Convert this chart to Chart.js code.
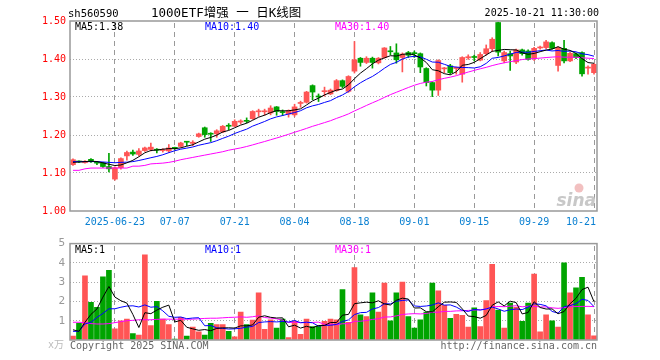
<!DOCTYPE html>
<html>
<head>
<meta charset="utf-8">
<script src="https://cdn.jsdelivr.net/npm/chart.js@4.4.1/dist/chart.umd.min.js"></script>
<style>
  body { margin: 0; background: #fff; width: 660px; height: 360px; overflow: hidden; position: relative; font-family: "DejaVu Sans Mono", monospace; }
  canvas { position: absolute; left: 0; }
  #kline { top: 0; }
  #vol { top: 232px; }
  .t { position: absolute; white-space: nowrap; font-size: 10px; line-height: 12px; color: #000; }
</style>
</head>
<body>
<canvas id="kline" width="660" height="232"></canvas>
<canvas id="vol" width="660" height="128"></canvas>
<div class="t" style="left:68px;top:7px;font-size:10.5px">sh560590</div>
<div class="t" style="left:151px;top:5px;font-size:12.5px;line-height:15px;font-family:'DejaVu Sans Mono','Noto Sans CJK SC',monospace">1000ETF增强 一 日K线图</div>
<div class="t" style="right:61px;top:7px">2025-10-21 11:30:00</div>
<script>
// trading days shown (88 candles)
const dates = [
  '2025-06-12','2025-06-13','2025-06-16','2025-06-17','2025-06-18','2025-06-19','2025-06-20','2025-06-23','2025-06-24','2025-06-25','2025-06-26','2025-06-27','2025-06-30',
  '2025-07-01','2025-07-02','2025-07-03','2025-07-04','2025-07-07','2025-07-08','2025-07-09','2025-07-10','2025-07-11','2025-07-14','2025-07-15','2025-07-16','2025-07-17','2025-07-18',
  '2025-07-21','2025-07-22','2025-07-23','2025-07-24','2025-07-25','2025-07-28','2025-07-29','2025-07-30','2025-07-31',
  '2025-08-01','2025-08-04','2025-08-05','2025-08-06','2025-08-07','2025-08-08','2025-08-11','2025-08-12','2025-08-13','2025-08-14','2025-08-15',
  '2025-08-18','2025-08-19','2025-08-20','2025-08-21','2025-08-22','2025-08-25','2025-08-26','2025-08-27','2025-08-28','2025-08-29',
  '2025-09-01','2025-09-02','2025-09-03','2025-09-04','2025-09-05','2025-09-08','2025-09-09','2025-09-10','2025-09-11','2025-09-12',
  '2025-09-15','2025-09-16','2025-09-17','2025-09-18','2025-09-19','2025-09-22','2025-09-23','2025-09-24','2025-09-25','2025-09-26',
  '2025-09-29','2025-09-30','2025-10-09','2025-10-10','2025-10-13','2025-10-14','2025-10-15','2025-10-16','2025-10-17','2025-10-20','2025-10-21'
];
const tickDates = ['2025-06-23','2025-07-07','2025-07-21','2025-08-04','2025-08-18','2025-09-01','2025-09-15','2025-09-29','2025-10-21'];
const tickLabels = ['2025-06-23','07-07','07-21','08-04','08-18','09-01','09-15','09-29','10-21'];

const opens = [1.122,1.130,1.127,1.136,1.128,1.127,1.117,1.084,1.114,1.145,
  1.155,1.149,1.159,1.162,1.161,1.159,1.158,1.167,1.170,1.182,
  1.178,1.196,1.219,1.204,1.203,1.208,1.225,1.223,1.234,1.238,
  1.243,1.261,1.261,1.258,1.274,1.261,1.255,1.253,1.283,1.286,
  1.330,1.302,1.314,1.308,1.317,1.343,1.315,1.368,1.402,1.391,
  1.402,1.390,1.404,1.421,1.416,1.404,1.417,1.416,1.414,1.375,
  1.338,1.318,1.374,1.382,1.375,1.360,1.403,1.405,1.397,1.414,
  1.427,1.496,1.395,1.414,1.392,1.424,1.421,1.401,1.429,1.430,
  1.443,1.383,1.428,1.395,1.414,1.417,1.376,1.364];
const highs = [1.137,1.132,1.133,1.138,1.130,1.128,1.152,1.116,1.140,1.158,
  1.160,1.164,1.168,1.179,1.164,1.164,1.175,1.168,1.181,1.182,
  1.185,1.205,1.221,1.206,1.214,1.225,1.230,1.240,1.240,1.245,
  1.264,1.268,1.268,1.277,1.275,1.266,1.266,1.281,1.289,1.315,
  1.332,1.308,1.326,1.321,1.346,1.345,1.356,1.446,1.404,1.406,
  1.405,1.404,1.430,1.433,1.440,1.416,1.420,1.421,1.416,1.377,
  1.340,1.398,1.378,1.386,1.379,1.406,1.411,1.410,1.417,1.437,
  1.456,1.497,1.421,1.421,1.426,1.426,1.424,1.431,1.434,1.449,
  1.445,1.432,1.449,1.418,1.416,1.419,1.382,1.388];
const lows = [1.120,1.127,1.126,1.128,1.122,1.115,1.103,1.081,1.110,1.134,
  1.146,1.145,1.157,1.158,1.153,1.155,1.154,1.162,1.168,1.172,
  1.172,1.194,1.194,1.183,1.194,1.206,1.214,1.222,1.229,1.232,
  1.241,1.249,1.252,1.253,1.252,1.251,1.247,1.249,1.273,1.284,
  1.293,1.288,1.302,1.306,1.315,1.324,1.312,1.363,1.381,1.388,
  1.376,1.387,1.402,1.411,1.389,1.366,1.404,1.404,1.364,1.329,
  1.301,1.304,1.364,1.360,1.360,1.339,1.399,1.395,1.395,1.410,
  1.420,1.408,1.390,1.370,1.388,1.410,1.397,1.396,1.426,1.427,
  1.426,1.368,1.390,1.393,1.401,1.355,1.360,1.360];
const closes = [1.135,1.129,1.131,1.130,1.126,1.117,1.111,1.114,1.138,1.154,
  1.150,1.158,1.166,1.168,1.160,1.161,1.166,1.165,1.179,1.181,
  1.181,1.203,1.201,1.202,1.211,1.223,1.223,1.236,1.237,1.236,
  1.262,1.263,1.263,1.271,1.262,1.259,1.264,1.274,1.285,1.313,
  1.313,1.300,1.316,1.318,1.343,1.328,1.354,1.398,1.391,1.402,
  1.391,1.402,1.429,1.419,1.398,1.413,1.410,1.414,1.379,1.338,
  1.318,1.396,1.376,1.364,1.378,1.404,1.406,1.404,1.412,1.427,
  1.452,1.418,1.417,1.408,1.424,1.414,1.399,1.428,1.431,1.445,
  1.428,1.430,1.395,1.415,1.404,1.361,1.378,1.386];
// volume, unit 万手
const volumes = [0.20,0.87,3.33,1.95,1.70,3.28,3.62,0.58,1.00,1.08,
  0.33,0.25,4.42,0.75,2.00,1.08,0.80,0.05,1.17,0.20,
  0.67,0.42,0.25,0.87,0.80,0.80,0.45,0.17,1.45,0.80,
  1.03,2.45,0.55,1.05,0.62,1.08,0.12,0.97,0.30,1.08,
  0.70,0.72,0.97,1.08,1.05,2.62,0.92,3.75,1.30,1.22,
  2.45,1.45,2.95,1.00,2.45,3.00,1.22,0.62,1.05,1.45,
  2.95,2.55,1.80,1.12,1.33,1.28,0.67,1.67,0.70,2.05,
  3.92,1.55,0.62,1.92,1.70,0.97,1.92,3.42,0.42,1.30,
  1.00,0.67,4.00,2.45,2.70,3.25,1.30,0.22];

// start of the MA lines (window not full yet)
const priceMa5Head = [1.128,1.129,1.130,1.131];
const priceMa10Head = [1.130,1.130,1.130,1.130,1.130,1.129,1.128,1.127,1.128];
const priceMa30Head = [1.107,1.107,1.111,1.113,1.113,1.113,1.113,1.113,1.113,1.113,
  1.118,1.118,1.120,1.124,1.125,1.126,1.128,1.131,1.135,1.138,
  1.141,1.144,1.147,1.150,1.153,1.156,1.160,1.163,1.166];
const volMa5Head = [0.53,0.45,0.92,1.33];
const volMa10Head = [0.45,0.45,0.83,0.92,1.17,1.38,1.62,1.62,1.70];
const volMa30Head = [0.92,0.92,0.90,0.85,0.83,0.83,0.85,0.90,0.95,1.00,
  1.02,1.05,1.05,1.05,1.07,1.08,1.08,1.08,1.08,1.08,
  1.08,1.10,1.12,1.13,1.13,1.15,1.17,1.18,1.20];

const priceMaText = ['MA5:1.38', 'MA10:1.40', 'MA30:1.40'];
const volMaText = ['MA5:1', 'MA10:1', 'MA30:1'];

const RED = '#ff5555', GREEN = '#00a400';
const MA_COLORS = ['#000000', '#0000ff', '#ff00ff'];
const FONT = '"DejaVu Sans Mono", monospace';

function movingAvg(values, n, head) {
  return values.map((v, i) => {
    if (i < n - 1) return head[i];
    let s = 0;
    for (let k = i - n + 1; k <= i; k++) s += values[k];
    return s / n;
  });
}

const upDown = closes.map((c, i) => c >= opens[i] ? RED : GREEN);

// dashed date lines under the candles, frame on top
const framePlugin = {
  id: 'frame',
  beforeDatasetsDraw(chart) {
    const { ctx, chartArea: a } = chart;
    const x = chart.scales.x;
    ctx.save();
    ctx.fillStyle = '#999999';
    tickDates.forEach(d => {
      const px = Math.floor(x.getPixelForValue(dates.indexOf(d)));
      for (let y = Math.ceil(a.top) + 2; y < a.bottom - 1; y += 9) {
        ctx.fillRect(px, y, 1, Math.min(5, a.bottom - 1 - y));
      }
    });
    ctx.restore();
  },
  afterDraw(chart) {
    const { ctx, chartArea: a } = chart;
    ctx.save();
    ctx.strokeStyle = '#999';
    ctx.lineWidth = 1.5;
    ctx.strokeRect(a.left, a.top, a.right - a.left, a.bottom - a.top);
    ctx.restore();
  }
};

function xScale() {
  return {
    offset: true,
    grid: { display: false },
    border: { display: false },
    ticks: { display: false, autoSkip: false },
    afterFit: s => { s.height = 0; }
  };
}

function drawMaTexts(ctx, texts, xs, y) {
  ctx.save();
  ctx.font = '10px ' + FONT;
  ctx.textBaseline = 'middle';
  ctx.textAlign = 'left';
  texts.forEach((t, k) => {
    ctx.fillStyle = MA_COLORS[k];
    ctx.fillText(t, xs[k], y);
  });
  ctx.restore();
}

const klineText = {
  id: 'klineText',
  afterDraw(chart) {
    const { ctx, chartArea: a } = chart;
    const x = chart.scales.x;
    ctx.save();
    ctx.font = '10px ' + FONT;
    ctx.fillStyle = '#0a80d2';
    ctx.textBaseline = 'middle';
    tickDates.forEach((d, k) => {
      const px = x.getPixelForValue(dates.indexOf(d));
      const last = k === tickDates.length - 1;
      ctx.textAlign = last ? 'right' : 'center';
      ctx.fillText(tickLabels[k], last ? px + 2 : px, a.bottom + 11);
    });
    // sina watermark
    ctx.fillStyle = '#f2c0c0';
    ctx.beginPath();
    ctx.arc(579, 188, 4.5, 0, Math.PI * 2);
    ctx.fill();
    ctx.font = 'italic bold 17px "DejaVu Sans", sans-serif';
    ctx.fillStyle = '#c8c8c8';
    ctx.textAlign = 'right';
    ctx.textBaseline = 'alphabetic';
    ctx.fillText('sina', a.right - 1, 206);
    ctx.restore();
    drawMaTexts(ctx, priceMaText, [75, 205, 335], a.top + 6);
  }
};

const volText = {
  id: 'volText',
  afterDraw(chart) {
    const { ctx, chartArea: a } = chart;
    drawMaTexts(ctx, volMaText, [75, 205, 335], a.top + 7);
    ctx.save();
    ctx.font = '10px ' + FONT;
    ctx.textBaseline = 'middle';
    ctx.fillStyle = '#666';
    ctx.textAlign = 'left';
    ctx.fillText('Copyright 2025 SINA.COM', a.left, a.bottom + 6);
    ctx.textAlign = 'right';
    ctx.fillText('http://finance.sina.com.cn', a.right, a.bottom + 6);
    ctx.fillStyle = '#bbb';
    ctx.font = '10px ' + FONT + ', "Noto Sans CJK SC"';
    ctx.fillText('x万', a.left - 6, a.bottom + 5);
    ctx.restore();
  }
};

new Chart(document.getElementById('kline'), {
  type: 'bar',
  data: {
    labels: dates,
    datasets: [
      { type: 'line', data: movingAvg(closes, 5, priceMa5Head), borderColor: MA_COLORS[0], borderWidth: 1, pointRadius: 0, order: 0 },
      { type: 'line', data: movingAvg(closes, 10, priceMa10Head), borderColor: MA_COLORS[1], borderWidth: 1, pointRadius: 0, order: 0 },
      { type: 'line', data: movingAvg(closes, 30, priceMa30Head), borderColor: MA_COLORS[2], borderWidth: 1, pointRadius: 0, order: 0 },
      // candle bodies
      { data: opens.map((o, i) => [o, closes[i]]), backgroundColor: upDown, barThickness: 5, minBarLength: 1, grouped: false, order: 1 },
      // wicks
      { data: lows.map((l, i) => [l, highs[i]]), backgroundColor: upDown, barThickness: 1, grouped: false, order: 2 }
    ]
  },
  options: {
    responsive: false,
    animation: false,
    layout: { padding: { left: 0, right: 63, top: 21, bottom: 21 } },
    plugins: { legend: { display: false }, tooltip: { enabled: false } },
    scales: {
      x: xScale(),
      y: {
        min: 1.0, max: 1.5,
        ticks: { stepSize: 0.1, color: '#ff0000', padding: 4, font: { family: FONT, size: 10 }, callback: v => v.toFixed(2) },
        grid: { drawTicks: false, color: c => (c.tick.value > 1.001 && c.tick.value < 1.499) ? '#aaa' : 'rgba(0,0,0,0)' },
        border: { display: false, dash: [1, 2] },
        afterFit: s => { s.width = 70; }
      }
    }
  },
  plugins: [framePlugin, klineText]
});

new Chart(document.getElementById('vol'), {
  type: 'bar',
  data: {
    labels: dates,
    datasets: [
      { type: 'line', data: movingAvg(volumes, 5, volMa5Head), borderColor: MA_COLORS[0], borderWidth: 1, pointRadius: 0, order: 0 },
      { type: 'line', data: movingAvg(volumes, 10, volMa10Head), borderColor: MA_COLORS[1], borderWidth: 1, pointRadius: 0, order: 0 },
      { type: 'line', data: movingAvg(volumes, 30, volMa30Head), borderColor: MA_COLORS[2], borderWidth: 1, pointRadius: 0, order: 0 },
      { data: volumes, backgroundColor: upDown, barThickness: 5, order: 1 }
    ]
  },
  options: {
    responsive: false,
    animation: false,
    layout: { padding: { left: 0, right: 63, top: 8, bottom: 20 } },
    plugins: { legend: { display: false }, tooltip: { enabled: false } },
    scales: {
      x: xScale(),
      y: {
        min: 0, max: 5,
        ticks: { stepSize: 1, color: '#999', padding: 5, font: { family: FONT, size: 11 }, callback: v => v === 0 ? '' : v },
        grid: { drawTicks: false, color: c => (c.tick.value > 0 && c.tick.value < 5) ? '#aaa' : 'rgba(0,0,0,0)' },
        border: { display: false, dash: [1, 2] },
        afterFit: s => { s.width = 70; }
      }
    }
  },
  plugins: [framePlugin, volText]
});
</script>
</body>
</html>
